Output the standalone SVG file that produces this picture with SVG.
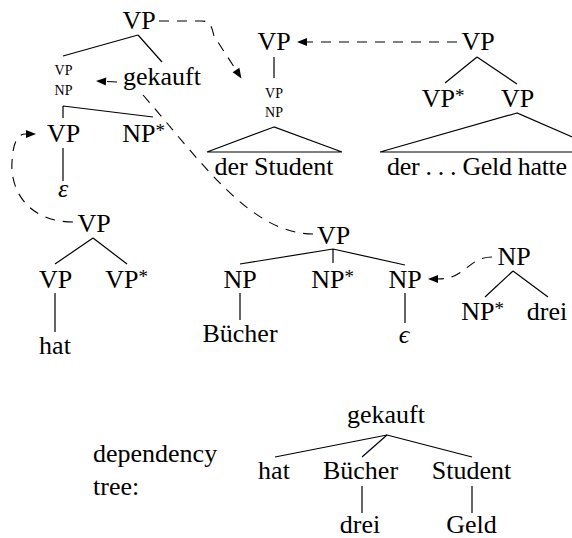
<svg xmlns="http://www.w3.org/2000/svg" width="572" height="538" viewBox="0 0 572 538">
<style>
text{font-family:"Liberation Serif","Times New Roman",serif;font-size:26px;fill:#000}
.c{text-anchor:middle}
.s{font-size:14px}
.i{font-style:italic}
.e{stroke:#000;stroke-width:1.2;fill:none}
.d{stroke:#000;stroke-width:1.1;fill:none;stroke-dasharray:10 8}
.tri{stroke:#000;stroke-width:1.2;fill:none}
</style>
<defs>
<marker id="ah" markerUnits="userSpaceOnUse" markerWidth="10" markerHeight="8" refX="0" refY="4" orient="auto" overflow="visible">
<path d="M0,0 L10,4 L0,8 z" fill="#000"/>
</marker>
</defs>
<rect width="572" height="538" fill="#fff"/>

<g id="connectors">
<!-- tree 1 -->
<path class="e" d="M138,35 L63,56 M138,35 L162,62"/>
<path class="e" d="M63,106 L63,118 M63,106 L153,117"/>
<path class="e" d="M63,148 L63,181"/>
<!-- tree 2 -->
<path class="e" d="M274,57 L274,78"/>
<!-- tree 3 -->
<path class="e" d="M477,57 L445,83 M477,57 L517,84"/>
<!-- tree 4 -->
<path class="e" d="M93,238 L55,264 M93,238 L127,264 M55,293 L55,332"/>
<!-- tree 5 -->
<path class="e" d="M333,249 L240,264 M333,249 L333,263 M333,249 L405,265 M240,293 L240,320 M405,293 L405,323"/>
<!-- tree 6 -->
<path class="e" d="M513,271 L485,297 M513,271 L548,297"/>
<!-- dependency tree -->
<path class="e" d="M387,435 L275,457 M387,435 L362,457 M387,435 L472,457 M362,486 L362,513 M472,486 L472,513"/>
<!-- dashed derivation links -->
<path class="d" d="M117,82 L106,81.5" marker-end="url(#ah)"/>
<path class="d" d="M159,21 H202 C211,21 212,28 214,36 L236,70" marker-end="url(#ah)"/>
<path class="d" d="M457,42 L307,42" marker-end="url(#ah)"/>
<path class="d" d="M73,222 C28,222 10,190 12,162 C13,143 17,134 26,134" marker-end="url(#ah)"/>
<path class="d" d="M492,257 C468,257 466,279 438,279" marker-end="url(#ah)"/>
<path class="d" d="M143,95 C200,160 250,234 313,234"/>
</g>

<g id="t1-root"><text class="c" x="139" y="29">VP</text></g>
<g id="t1-subst"><text class="c s" x="63.5" y="75">VP</text><text class="c s" x="63.5" y="95">NP</text></g>
<g id="t1-gekauft"><text class="c" x="162" y="85">gekauft</text></g>
<g id="t1-vp"><text class="c" x="63.5" y="142">VP</text></g>
<g id="t1-npstar"><text class="c" x="143.5" y="142">NP<tspan font-size="19" dy="-5">*</tspan></text></g>
<g id="t1-eps"><text class="c i" x="63" y="197">ε</text></g>

<g id="t2-root"><text class="c" x="274" y="50">VP</text></g>
<g id="t2-subst"><text class="c s" x="274" y="97.5">VP</text><text class="c s" x="274" y="116.5">NP</text></g>
<g id="t2-student"><path class="tri" d="M274,127 L207,152 L342,152 Z"/><text class="c" x="274" y="175">der Student</text></g>

<g id="t3-root"><text class="c" x="478" y="50">VP</text></g>
<g id="t3-vpstar"><text class="c" x="443" y="107">VP<tspan font-size="19" dy="-5">*</tspan></text></g>
<g id="t3-vp"><text class="c" x="517.5" y="107">VP</text></g>
<g id="t3-geld"><path class="tri" d="M517,113 L380,152 L607,152 Z"/><text x="387" y="175" textLength="180" lengthAdjust="spacing">der . . . Geld hatte</text></g>

<g id="t4-root"><text class="c" x="94" y="232">VP</text></g>
<g id="t4-vp"><text class="c" x="55.5" y="288">VP</text></g>
<g id="t4-vpstar"><text class="c" x="126.5" y="288">VP<tspan font-size="19" dy="-5">*</tspan></text></g>
<g id="t4-hat"><text class="c" x="55" y="354">hat</text></g>

<g id="t5-root"><text class="c" x="333.5" y="243.5">VP</text></g>
<g id="t5-np1"><text class="c" x="240" y="287.5">NP</text></g>
<g id="t5-npstar"><text class="c" x="332.5" y="287.5">NP<tspan font-size="19" dy="-5">*</tspan></text></g>
<g id="t5-np2"><text class="c" x="405" y="287.5">NP</text></g>
<g id="t5-buecher"><text class="c" x="240" y="342">Bücher</text></g>
<g id="t5-eps"><text class="c i" x="404" y="343">ϵ</text></g>

<g id="t6-root"><text class="c" x="514" y="265">NP</text></g>
<g id="t6-npstar"><text class="c" x="482.5" y="320">NP<tspan font-size="19" dy="-5">*</tspan></text></g>
<g id="t6-drei"><text class="c" x="547" y="320">drei</text></g>

<g id="dep-label"><text x="93" y="462">dependency</text><text x="93" y="495">tree:</text></g>
<g id="dep-gekauft"><text class="c" x="386" y="423">gekauft</text></g>
<g id="dep-hat"><text class="c" x="274" y="479">hat</text></g>
<g id="dep-buecher"><text class="c" x="360.5" y="479">Bücher</text></g>
<g id="dep-student"><text class="c" x="471.5" y="479">Student</text></g>
<g id="dep-drei"><text class="c" x="360" y="533">drei</text></g>
<g id="dep-geld"><text class="c" x="471.5" y="533">Geld</text></g>
</svg>
